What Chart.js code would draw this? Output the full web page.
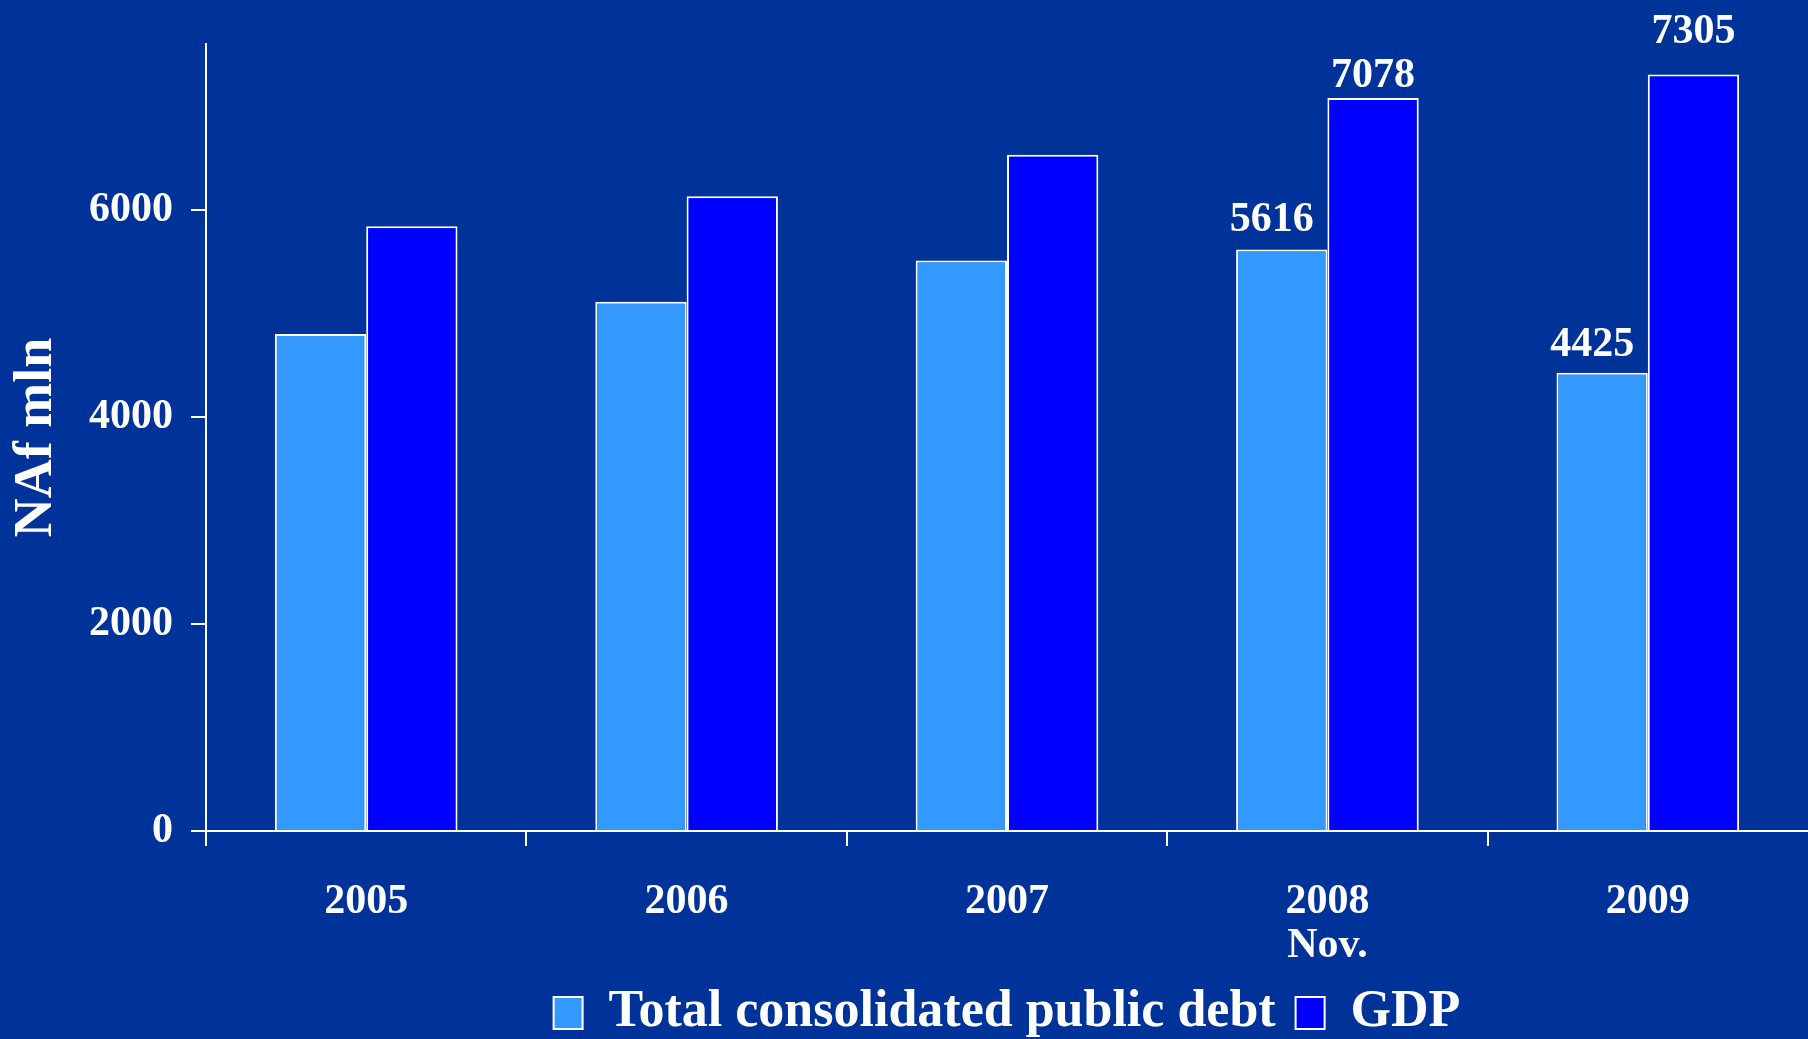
<!DOCTYPE html>
<html>
<head>
<meta charset="utf-8">
<title>Public debt and GDP</title>
<script src="https://cdn.jsdelivr.net/npm/chart.js@4.4.0/dist/chart.umd.min.js"></script>
<style>
  html, body { margin: 0; padding: 0; background: #003399; overflow: hidden; }
</style>
</head>
<body>
<canvas id="chart" width="1808" height="1039"></canvas>
<script>
// categories and series (NAf mln)
const years = [['2005'], ['2006'], ['2007'], ['2008', 'Nov.'], ['2009']];
const debtValues = [4800, 5110, 5510, 5616, 4425];
const gdpValues = [5840, 6130, 6530, 7078, 7305];
const yTicks = [0, 2000, 4000, 6000];
const labelledYears = [3, 4];

const FONT = '"Liberation Serif", "Times New Roman", serif';
const WHITE = '#FFFFFF';

// writes the value above the bars of the labelled years
const valueLabels = {
  id: 'valueLabels',
  afterDatasetsDraw(chart, args, opts) {
    const ctx = chart.ctx;
    ctx.save();
    ctx.fillStyle = WHITE;
    ctx.font = 'bold 42px ' + FONT;
    ctx.textAlign = 'center';
    ctx.textBaseline = 'alphabetic';
    chart.data.datasets.forEach((ds, d) => {
      const meta = chart.getDatasetMeta(d);
      labelledYears.forEach((i, k) => {
        const bar = meta.data[i];
        ctx.fillText(String(ds.data[i]), bar.x + opts.shiftX[d], bar.y - opts.lift[d][k]);
      });
    });
    ctx.restore();
  }
};

const ctx = document.getElementById('chart').getContext('2d');

new Chart(ctx, {
  type: 'bar',
  data: {
    labels: years,
    datasets: [
      {
        label: 'Total consolidated public debt',
        data: debtValues,
        backgroundColor: '#3399FF',
        borderColor: WHITE,
        borderWidth: 2,
        categoryPercentage: 0.57,
        barPercentage: 1.0
      },
      {
        label: 'GDP',
        data: gdpValues,
        backgroundColor: '#0000FF',
        borderColor: WHITE,
        borderWidth: 2,
        categoryPercentage: 0.57,
        barPercentage: 1.0
      }
    ]
  },
  options: {
    responsive: false,
    animation: false,
    devicePixelRatio: 1,
    layout: {
      padding: { top: 44, right: 0, bottom: -10, left: 0 }
    },
    plugins: {
      legend: {
        position: 'bottom',
        fullSize: false,
        labels: {
          color: WHITE,
          font: { family: FONT, size: 52, weight: 'bold' },
          boxWidth: 29,
          boxHeight: 32,
          padding: 20
        }
      },
      tooltip: { enabled: false },
      valueLabels: {
        shiftX: [-10, 0],
        lift: [[18, 17], [11, 32]]
      }
    },
    scales: {
      x: {
        grid: {
          drawOnChartArea: false,
          drawTicks: true,
          tickLength: 15,
          lineWidth: 2,
          offset: true,
          color: c => (c.type === 'tick' ? WHITE : 'transparent')
        },
        border: { color: WHITE, width: 2 },
        ticks: {
          color: WHITE,
          font: { family: FONT, size: 42, weight: 'bold', lineHeight: 1.05 },
          padding: 34,
          maxRotation: 0,
          autoSkip: false
        },
        afterFit: scale => { scale.height = 136; }
      },
      y: {
        min: 0,
        max: 7600,
        afterBuildTicks: axis => { axis.ticks = yTicks.map(v => ({ value: v })); },
        grid: {
          drawOnChartArea: false,
          drawTicks: true,
          tickLength: 15,
          lineWidth: 2,
          color: WHITE
        },
        border: { color: WHITE, width: 2 },
        ticks: {
          color: WHITE,
          font: { family: FONT, size: 42, weight: 'bold' },
          padding: 18,
          callback: v => String(v)
        },
        title: {
          display: true,
          text: 'NAf mln',
          color: WHITE,
          font: { family: FONT, size: 54, weight: 'bold' },
          padding: { top: 5, bottom: 0 }
        },
        afterFit: scale => { scale.width = 206; }
      }
    }
  },
  plugins: [valueLabels]
});
</script>
</body>
</html>
